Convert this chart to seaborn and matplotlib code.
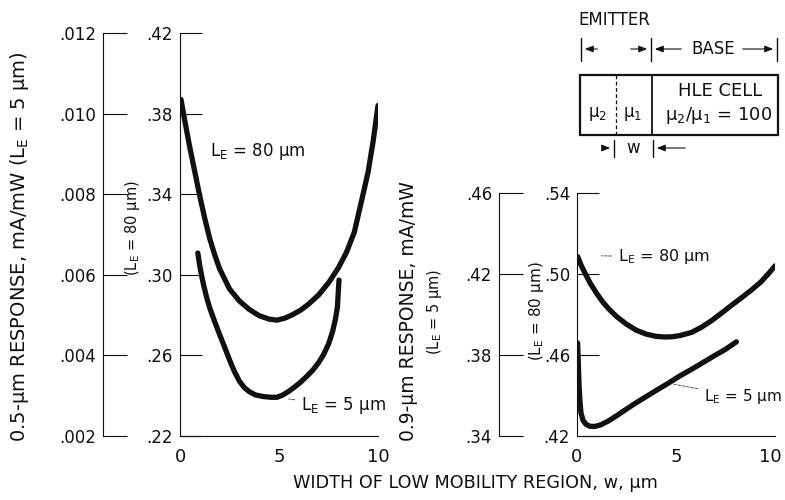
import matplotlib
matplotlib.use("Agg")
import matplotlib.pyplot as plt
import seaborn as sns
import pandas as pd
from matplotlib.ticker import FixedLocator, FuncFormatter
from matplotlib.patches import Rectangle
from matplotlib.transforms import ScaledTranslation

# ---------------- data ----------------
# Left panel: 0.5-um response
w_left_80 = [0.05, 0.25, 0.5, 0.75, 1.0, 1.25, 1.5, 1.75, 2.0, 2.5, 3.0, 3.5, 4.0, 4.5, 4.9, 5.3, 5.7,
             6.1, 6.5, 7.0, 7.5, 8.0, 8.4, 8.8, 9.2, 9.5, 9.75, 10.0]
resp05_80 = [0.387, 0.376, 0.363, 0.351, 0.339, 0.328, 0.318, 0.310, 0.303, 0.293, 0.287, 0.2828, 0.2797,
             0.278, 0.2775, 0.2785, 0.2803, 0.2825, 0.2855, 0.290, 0.296, 0.3035, 0.311, 0.321, 0.338,
             0.351, 0.366, 0.384]
w_left_5 = [0.9, 1.0, 1.1, 1.2, 1.35, 1.5, 1.75, 2.0, 2.25, 2.5, 2.75, 3.0, 3.25, 3.5, 3.8, 4.2, 4.6, 4.9,
            5.2, 5.5, 5.8, 6.1, 6.4, 6.7, 7.0, 7.25, 7.5, 7.7, 7.85, 7.95, 8.03]
resp05_5 = [0.00654, 0.00622, 0.00596, 0.00573, 0.00543, 0.00518, 0.00484, 0.00452, 0.00421, 0.00389,
            0.00360, 0.00336, 0.00320, 0.00310, 0.00302, 0.00298, 0.00296, 0.00296, 0.00302, 0.00311,
            0.00322, 0.00334, 0.00348, 0.00363, 0.00382, 0.00402, 0.00428, 0.00458, 0.00490, 0.00520,
            0.00587]

# Right panel: 0.9-um response
w_right_80 = [0.04, 0.2, 0.4, 0.66, 1.0, 1.3, 1.6, 2.0, 2.5, 3.0, 3.5, 4.0, 4.4, 4.8, 5.2, 5.8, 6.3, 6.8,
              7.3, 7.8, 8.3, 8.8, 9.3, 9.7, 10.0]
resp09_80 = [0.5085, 0.5045, 0.5005, 0.4956, 0.4903, 0.4862, 0.4828, 0.479, 0.4752, 0.4722, 0.4703,
             0.4692, 0.4689, 0.469, 0.4696, 0.4712, 0.4738, 0.477, 0.4807, 0.4845, 0.4882, 0.492,
             0.4962, 0.5005, 0.504]
w_right_5 = [0.03, 0.06, 0.1, 0.15, 0.2, 0.3, 0.45, 0.65, 0.9, 1.2, 1.6, 2.0, 2.5, 3.0, 3.5, 4.0, 4.6,
             5.2, 5.8, 6.4, 7.0, 7.5, 8.05]
resp09_5 = [0.386, 0.378, 0.366, 0.357, 0.3515, 0.3478, 0.3458, 0.3448, 0.3447, 0.3455, 0.3475, 0.350,
            0.3533, 0.3565, 0.3595, 0.3625, 0.366, 0.3697, 0.373, 0.3765, 0.380, 0.3828, 0.3865]

x_ticks = [0, 5, 10]
x_tick_labels = ["0", "5", "10"]
left_outer_ticks = [0.002, 0.004, 0.006, 0.008, 0.010, 0.012]
left_inner_ticks = [0.22, 0.26, 0.30, 0.34, 0.38, 0.42]
right_outer_ticks = [0.34, 0.38, 0.42, 0.46]
right_inner_ticks = [0.42, 0.46, 0.50, 0.54]

label_80 = "L$_\\mathrm{E}$ = 80 µm"
label_5 = "L$_\\mathrm{E}$ = 5 µm"

# ---------------- style ----------------
sns.set_style("white")
plt.rcParams["font.family"] = ["DejaVu Sans"]
plt.rcParams["mathtext.fontset"] = "dejavusans"

INK = "#111111"
fig = plt.figure(figsize=(7.85, 5.0), dpi=100)
W, H = 785.0, 500.0


def px_axes(x0, y0, x1, y1):
    return fig.add_axes([x0 / W, 1 - y1 / H, (x1 - x0) / W, (y1 - y0) / H])


def fmt(dec):
    return FuncFormatter(lambda v, p: ("{:.%df}" % dec).format(v).lstrip("0"))


def style_panel(ax, tw, outer_offset, inner_ticks, outer_ticks, outer_dec):
    for s in ["top", "right"]:
        ax.spines[s].set_visible(False)
    for s in ["left", "bottom"]:
        ax.spines[s].set_linewidth(0.8)
        ax.spines[s].set_color(INK)
    for s in ["top", "right", "bottom"]:
        tw.spines[s].set_visible(False)
    tw.spines["left"].set_visible(True)
    tw.spines["left"].set_position(("axes", outer_offset))
    tw.spines["left"].set_linewidth(0.8)
    tw.spines["left"].set_color(INK)
    tw.yaxis.tick_left()
    tw.yaxis.set_label_position("left")
    ax.set_xlim(0, 10)
    ax.set_xticks(x_ticks, labels=x_tick_labels)
    ax.yaxis.set_major_locator(FixedLocator(inner_ticks))
    ax.yaxis.set_major_formatter(fmt(2))
    tw.yaxis.set_major_locator(FixedLocator(outer_ticks))
    tw.yaxis.set_major_formatter(fmt(outer_dec))
    ax.set_ylim(inner_ticks[0], inner_ticks[-1])
    tw.set_ylim(outer_ticks[0], outer_ticks[-1])
    ax.tick_params(axis="y", direction="in", length=16, width=0.8, pad=5, labelsize=12, colors=INK)
    tw.tick_params(axis="y", direction="in", length=17, width=0.8, pad=5, labelsize=12, colors=INK)
    ax.tick_params(axis="x", direction="in", length=17, width=0.8, pad=9, labelsize=13, colors=INK)
    ax.set_xlabel("")
    ax.set_ylabel("")
    tw.set_ylabel("")


line_kw = dict(color=INK, linewidth=3.8, solid_capstyle="round", solid_joinstyle="round")
lead_kw = dict(arrowstyle="-", lw=0.7, color="#555555", linestyle=(0, (3, 1.5)))

# ---------------- left panel ----------------
axL = px_axes(180, 33, 378, 436)
twL = axL.twinx()
sns.lineplot(data=pd.DataFrame({"w": w_left_80, "r": resp05_80}), x="w", y="r", ax=axL, **line_kw)
sns.lineplot(data=pd.DataFrame({"w": w_left_5, "r": resp05_5}), x="w", y="r", ax=twL, **line_kw)
style_panel(axL, twL, (103 - 180) / 198.0, left_inner_ticks, left_outer_ticks, 3)

axL.annotate(label_80, xy=(1.5, 0.361), fontsize=12, va="center", ha="left", color=INK)
axL.annotate(label_5, xy=(5.35, 0.2385), xytext=(6.1, 0.2352), fontsize=12, va="center", ha="left",
             color=INK, arrowprops=lead_kw, annotation_clip=False)

# ---------------- right panel ----------------
axR = px_axes(577, 193, 775, 436)
twR = axR.twinx()
sns.lineplot(data=pd.DataFrame({"w": w_right_80, "r": resp09_80}), x="w", y="r", ax=axR, **line_kw)
sns.lineplot(data=pd.DataFrame({"w": w_right_5, "r": resp09_5}), x="w", y="r", ax=twR, **line_kw)
style_panel(axR, twR, (499 - 577) / 198.0, right_inner_ticks, right_outer_ticks, 2)
last = axR.get_xticklabels()[-1]
last.set_transform(last.get_transform() + ScaledTranslation(-0.05, 0, fig.dpi_scale_trans))

axR.annotate(label_80, xy=(1.1, 0.509), xytext=(2.05, 0.5085), fontsize=11.5, va="center", ha="left",
             color=INK, arrowprops=lead_kw, annotation_clip=False)
axR.annotate(label_5, xy=(4.75, 0.4458), xytext=(6.4, 0.4393), fontsize=11, va="center", ha="left",
             color=INK, arrowprops=lead_kw, annotation_clip=False)

# ---------------- axis titles ----------------
fig.text(20 / W, 1 - 247 / H, "0.5-µm RESPONSE, mA/mW (" + label_5 + ")", rotation=90,
         ha="center", va="center", fontsize=14, color=INK)
fig.text(133 / W, 1 - 228 / H, "(" + label_80 + ")", rotation=90, ha="center", va="center",
         fontsize=10.5, color=INK)
fig.text(408 / W, 1 - 311 / H, "0.9-µm RESPONSE, mA/mW", rotation=90, ha="center", va="center",
         fontsize=13.5, color=INK)
fig.text(434 / W, 1 - 312 / H, "(" + label_5 + ")", rotation=90, ha="center", va="center",
         fontsize=10.5, color=INK)
fig.text(536 / W, 1 - 311 / H, "(" + label_80 + ")", rotation=90, ha="center", va="center",
         fontsize=11, color=INK)
fig.text(475 / W, 1 - 483 / H, "WIDTH OF LOW MOBILITY REGION, w, µm", ha="center", va="center",
         fontsize=12.7, color=INK)

# ---------------- inset schematic ----------------
ins = fig.add_axes([0, 0, 1, 1], zorder=5)
ins.set_xlim(0, W)
ins.set_ylim(H, 0)
ins.axis("off")
ins.patch.set_alpha(0)
ins.text(578, 20, "EMITTER", ha="left", va="center", fontsize=12, color=INK)
for xb in (581, 651, 777):
    ins.plot([xb, xb], [38, 61], color=INK, lw=1.0)
arr = dict(arrowstyle="-|>,head_length=0.5,head_width=0.2", lw=0.8, color=INK)
ins.annotate("", xy=(582, 49), xytext=(600, 49), arrowprops=arr)
ins.annotate("", xy=(650, 49), xytext=(628, 49), arrowprops=arr)
ins.annotate("", xy=(652, 49), xytext=(684, 49), arrowprops=arr)
ins.annotate("", xy=(776, 49), xytext=(740, 49), arrowprops=arr)
ins.text(713, 49, "BASE", ha="center", va="center", fontsize=12, color=INK)
ins.add_patch(Rectangle((580, 75), 198, 60, fill=False, lw=1.6, ec=INK))
ins.plot([616, 616], [75, 135], color=INK, lw=0.9, ls=(0, (3, 2)))
ins.plot([652, 652], [75, 135], color=INK, lw=1.3)
ins.text(598, 114, "µ$_2$", ha="center", va="center", fontsize=12, color=INK)
ins.text(633, 114, "µ$_1$", ha="center", va="center", fontsize=12, color=INK)
ins.text(720, 91, "HLE CELL", ha="center", va="center", fontsize=13, color=INK)
ins.text(719, 115, "µ$_2$/µ$_1$ = 100", ha="center", va="center", fontsize=13, color=INK)
for xb in (614, 653):
    ins.plot([xb, xb], [140, 157], color=INK, lw=1.0)
ins.annotate("", xy=(613, 148), xytext=(599, 148), arrowprops=arr)
ins.annotate("", xy=(654, 148), xytext=(688, 148), arrowprops=arr)
ins.text(633, 148, "w", ha="center", va="center", fontsize=12, color=INK)

fig.savefig("out.png", dpi=100, facecolor="white")
